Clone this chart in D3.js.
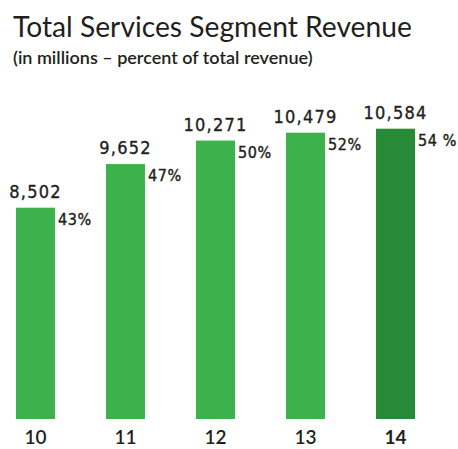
<!DOCTYPE html>
<html>
<head>
<meta charset="utf-8">
<script src="https://cdn.jsdelivr.net/npm/d3@7"></script>
<style>
  html, body { margin: 0; padding: 0; background: #fff; }
  svg { display: block; }
</style>
</head>
<body>
<div id="chart"></div>
<script>
// Chart data
const years = ["10", "11", "12", "13", "14"];
const revenue = [8502, 9652, 10271, 10479, 10584];
const percentLabels = ["43%", "47%", "50%", "52%", "54 %"];
const highlightYear = "14";

const width = 458, height = 449;
const lightGreen = "#3db14b";
const darkGreen = "#268a36";
const textColor = "#231f20";
const numFont = "'Liberation Sans Narrow', 'DejaVu Sans Condensed', 'Arial Narrow', sans-serif";
const titleFont = "Lato, 'Open Sans', sans-serif";

const svg = d3.select("#chart").append("svg")
  .attr("width", width)
  .attr("height", height);

// Set a text's font size so it spans the given width, capped at maxSize
function fitWidth(sel, targetWidth, maxSize) {
  const node = sel.node();
  const base = parseFloat(sel.attr("font-size"));
  const w = node.getComputedTextLength();
  sel.attr("font-size", Math.min(maxSize, base * targetWidth / w));
}

// Title and subtitle
const title = svg.append("text")
  .attr("x", 13).attr("y", 37)
  .attr("font-family", titleFont)
  .attr("font-size", 30)
  .attr("fill", textColor)
  .text("Total Services Segment Revenue");
fitWidth(title, 399, 31);

const subtitle = svg.append("text")
  .attr("x", 13).attr("y", 64)
  .attr("font-family", titleFont)
  .attr("font-size", 16)
  .attr("font-weight", 600)
  .attr("fill", textColor)
  .text("(in millions \u2013 percent of total revenue)");
fitWidth(subtitle, 322, 18);

// Scales
const x = d3.scaleBand()
  .domain(years)
  .range([16, 415])
  .paddingInner(0.567)
  .paddingOuter(0);

const baseY = 419;
const y = d3.scaleLinear()
  .domain([2933, d3.max(revenue)])
  .range([baseY, 128.7]);

const rows = years.map((yr, i) => ({ yr, v: revenue[i], pct: percentLabels[i] }));

// Bars
svg.append("g").selectAll("rect")
  .data(rows)
  .join("rect")
  .attr("x", d => x(d.yr))
  .attr("y", d => y(d.v))
  .attr("width", x.bandwidth())
  .attr("height", d => baseY - y(d.v))
  .attr("fill", d => d.yr === highlightYear ? darkGreen : lightGreen);

// Value labels above bars
svg.append("g").selectAll("text")
  .data(rows)
  .join("text")
  .attr("x", d => x(d.yr) + x.bandwidth() / 2)
  .attr("y", d => y(d.v) - 10)
  .attr("text-anchor", "middle")
  .attr("font-family", numFont)
  .attr("font-size", 18)
  .attr("letter-spacing", 1.2)
  .attr("fill", textColor)
  .attr("stroke", textColor)
  .attr("stroke-width", 0.35)
  .text(d => d3.format(",")(d.v));

// Share-of-revenue labels beside bars
svg.append("g").selectAll("text")
  .data(rows)
  .join("text")
  .attr("x", d => x(d.yr) + x.bandwidth() + 3)
  .attr("y", d => y(d.v) + 17)
  .attr("font-family", numFont)
  .attr("font-size", 16)
  .attr("letter-spacing", 0.6)
  .attr("fill", textColor)
  .attr("stroke", textColor)
  .attr("stroke-width", 0.4)
  .text(d => d.pct);

// Category axis
const xAxis = svg.append("g")
  .attr("transform", `translate(0,${baseY})`)
  .call(d3.axisBottom(x).tickSize(0).tickPadding(12));
xAxis.select(".domain").remove();
xAxis.selectAll("text")
  .attr("dy", "0.71em")
  .attr("font-family", titleFont)
  .attr("font-size", 19)
  .attr("font-weight", d => d === highlightYear ? 700 : 600)
  .attr("fill", textColor);
</script>
</body>
</html>
